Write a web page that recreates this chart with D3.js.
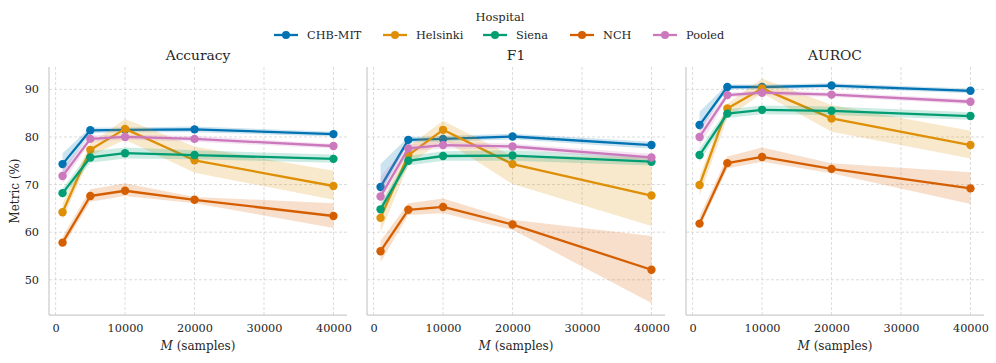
<!DOCTYPE html>
<html><head><meta charset="utf-8">
<script src="https://cdn.jsdelivr.net/npm/d3@7"></script>
<style>body{margin:0;background:#fff}svg{display:block}text{font-family:"DejaVu Serif",serif;fill:#262626}</style>
</head><body><svg id="c" width="996" height="363"></svg>
<script>
const samples = [1000, 5000, 10000, 20000, 40000];
const hospitals = ["CHB-MIT", "Helsinki", "Siena", "NCH", "Pooled"];
const colors = ["#0173b2", "#de8f05", "#029e73", "#d55e00", "#cc78bc"];
const metrics = ["Accuracy", "F1", "AUROC"];
const xTicks = [0, 10000, 20000, 30000, 40000];
const yTicks = [50, 60, 70, 80, 90];

// rows follow hospitals order
const accuracyMean = [[74.3,81.4,81.5,81.6,80.6],[64.2,77.3,81.7,75.1,69.7],[68.2,75.7,76.6,76.2,75.4],[57.8,67.6,68.7,66.8,63.4],[71.8,79.6,80.0,79.6,78.1]];
const accuracyLow  = [[72.3,80.8,81.0,81.0,80.1],[62.6,76.0,79.4,72.5,66.8],[67.2,74.6,75.5,75.3,74.6],[56.8,66.4,67.6,66.1,60.9],[70.2,79.0,79.4,79.0,77.6]];
const accuracyHigh = [[76.6,82.0,82.0,82.2,81.1],[66.0,78.6,83.8,78.0,72.9],[69.2,77.0,77.8,77.2,76.3],[59.0,69.0,70.3,67.4,66.1],[73.5,80.3,80.5,80.2,78.6]];

const f1Mean = [[69.5,79.4,79.6,80.1,78.3],[63.0,76.2,81.5,74.3,67.7],[64.8,75.0,76.0,76.1,74.8],[56.0,64.7,65.3,61.6,52.1],[67.5,77.6,78.3,78.0,75.7]];
const f1Low  = [[68.2,78.8,79.0,79.5,77.5],[60.0,74.0,79.4,70.1,61.3],[63.8,74.0,75.0,75.0,74.0],[53.7,63.6,64.0,60.5,45.1],[66.1,77.0,77.6,77.4,75.0]];
const f1High = [[74.3,80.0,80.2,80.7,79.0],[65.4,78.0,83.4,76.0,75.8],[66.0,76.0,77.0,77.2,75.8],[58.2,66.1,67.1,62.6,59.2],[71.7,78.5,79.0,78.6,76.5]];

const aurocMean = [[82.5,90.5,90.5,90.8,89.7],[69.9,86.0,90.2,83.9,78.3],[76.2,84.9,85.7,85.5,84.4],[61.8,74.5,75.8,73.3,69.2],[80.0,88.8,89.3,88.9,87.4]];
const aurocLow  = [[81.1,90.0,90.0,90.3,89.2],[67.6,84.0,89.2,81.1,75.5],[74.8,84.0,84.8,84.6,83.6],[60.9,73.4,74.8,72.4,65.9],[78.0,88.3,88.8,88.4,86.9]];
const aurocHigh = [[85.3,91.0,91.0,91.3,90.2],[71.7,87.0,92.3,86.7,81.3],[77.6,85.8,86.6,86.4,85.2],[63.3,75.9,77.8,74.5,72.6],[82.0,89.3,89.8,89.4,87.9]];

const metricData = [
  [accuracyMean, accuracyLow, accuracyHigh],
  [f1Mean, f1Low, f1High],
  [aurocMean, aurocLow, aurocHigh]
];

const svg = d3.select("#c");
const panelLeft = [49, 367, 686];
const panelW = 298;
const plotTop = 67, plotBottom = 315;

const y = d3.scaleLinear().domain([42.6, 94.7]).range([plotBottom, plotTop]);

metrics.forEach((m, pi) => {
  const x = d3.scaleLinear().domain([-950, 41950]).range([panelLeft[pi], panelLeft[pi] + panelW]);
  const g = svg.append("g");
  // grid
  g.selectAll(".gx").data(xTicks).enter().append("line")
    .attr("x1", d => x(d)).attr("x2", d => x(d)).attr("y1", plotTop).attr("y2", plotBottom)
    .attr("stroke", "#d3d3d3").attr("stroke-width", 0.8).attr("stroke-dasharray", "3,2");
  g.selectAll(".gy").data(yTicks).enter().append("line")
    .attr("x1", panelLeft[pi]).attr("x2", panelLeft[pi] + panelW).attr("y1", d => y(d)).attr("y2", d => y(d))
    .attr("stroke", "#d3d3d3").attr("stroke-width", 0.8).attr("stroke-dasharray", "3,2");
  // spines
  g.append("line").attr("x1", panelLeft[pi]).attr("x2", panelLeft[pi]).attr("y1", plotTop).attr("y2", plotBottom)
    .attr("stroke", "#cccccc").attr("stroke-width", 1.25);
  g.append("line").attr("x1", panelLeft[pi]).attr("x2", panelLeft[pi] + panelW).attr("y1", plotBottom).attr("y2", plotBottom)
    .attr("stroke", "#cccccc").attr("stroke-width", 1.25);
  // x tick labels via axis
  const xa = d3.axisBottom(x).tickValues(xTicks).tickFormat(d3.format("d")).tickSize(0).tickPadding(9);
  const xg = g.append("g").attr("transform", `translate(0,${plotBottom})`).call(xa);
  xg.select(".domain").remove();
  xg.selectAll("text").style("font-family", "DejaVu Serif").style("font-size", "11.3px").attr("fill", "#262626");
  if (pi === 0) {
    const ya = d3.axisLeft(y).tickValues(yTicks).tickFormat(d3.format("d")).tickSize(0).tickPadding(10);
    const yg = g.append("g").attr("transform", `translate(${panelLeft[pi]},0)`).call(ya);
    yg.select(".domain").remove();
    yg.selectAll("text").style("font-family", "DejaVu Serif").style("font-size", "11.3px").attr("fill", "#262626");
  }
  // title
  g.append("text").attr("x", panelLeft[pi] + panelW / 2).attr("y", 60).attr("text-anchor", "middle")
    .style("font-size", "13.8px").text(m);
  // x label
  const xl = g.append("text").attr("x", panelLeft[pi] + panelW / 2).attr("y", 350).attr("text-anchor", "middle")
    .style("font-size", "12px");
  xl.append("tspan").style("font-style", "italic").text("M");
  xl.append("tspan").text(" (samples)");

  const [mean, low, high] = metricData[pi];
  hospitals.forEach((h, hi) => {
    const pts = samples.map((s, i) => ({s, m: mean[hi][i], lo: low[hi][i], hi: high[hi][i]}));
    g.append("path").datum(pts)
      .attr("d", d3.area().x(d => x(d.s)).y0(d => y(d.lo)).y1(d => y(d.hi)))
      .attr("fill", colors[hi]).attr("fill-opacity", 0.2).attr("stroke", "none");
    g.append("path").datum(pts)
      .attr("d", d3.line().x(d => x(d.s)).y(d => y(d.m)))
      .attr("fill", "none").attr("stroke", colors[hi]).attr("stroke-width", 2.3).attr("stroke-linejoin", "round");
    g.selectAll(null).data(pts).enter().append("circle")
      .attr("cx", d => x(d.s)).attr("cy", d => y(d.m)).attr("r", 4.2).attr("fill", colors[hi]);
  });
});

// y label
svg.append("text").attr("transform", `translate(19,${(plotTop + plotBottom) / 2}) rotate(-90)`)
  .attr("text-anchor", "middle").style("font-size", "12px").text("Metric (%)");

// legend
svg.append("text").attr("x", 500).attr("y", 21).attr("text-anchor", "middle").style("font-size", "11.5px").text("Hospital");
const legX = [274, 383, 483, 570, 653];
hospitals.forEach((h, hi) => {
  const lg = svg.append("g").attr("transform", `translate(${legX[hi]},35)`);
  lg.append("line").attr("x1", 0).attr("x2", 24).attr("stroke", colors[hi]).attr("stroke-width", 2.3);
  lg.append("circle").attr("cx", 12).attr("r", 4).attr("fill", colors[hi]);
  lg.append("text").attr("x", 33).attr("y", 4).style("font-size", "11.3px").text(h);
});
</script></body></html>
